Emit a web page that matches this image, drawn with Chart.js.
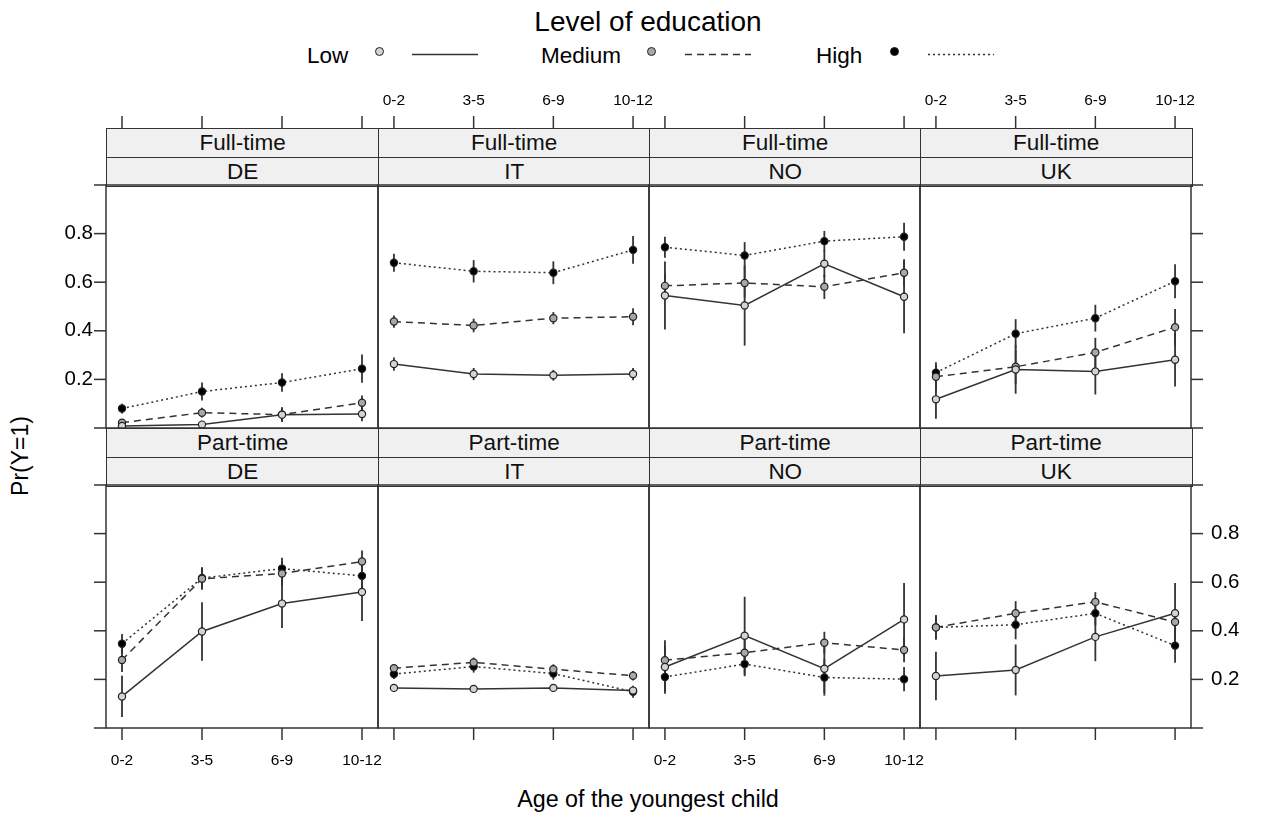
<!DOCTYPE html>
<html><head><meta charset="utf-8">
<script src="https://cdn.jsdelivr.net/npm/chart.js@4/dist/chart.umd.min.js"></script>
<style>
body{margin:0;background:#fff;}
#wrap{position:relative;width:1262px;height:818px;overflow:hidden;font-family:"Liberation Sans",Arial,sans-serif;color:#000;background:#fff;}
canvas{position:absolute;left:0;top:0;}
.strip{position:absolute;background:#f0f0f0;border:1.5px solid #333;box-sizing:border-box;text-align:center;font-size:22.5px;color:#111;}
.txt{position:absolute;white-space:nowrap;}
.dot{position:absolute;width:7px;height:7px;border-radius:50%;border:1.3px solid #222;box-sizing:content-box;}
svg{position:absolute;left:0;top:0;}
</style></head>
<body><div id="wrap"></div>
<script>
// ---------- data ----------
const ageGroups = ['0-2', '3-5', '6-9', '10-12'];
const countries = ['DE', 'IT', 'NO', 'UK'];
const employment = ['Full-time', 'Part-time'];
const eduLevels = ['Low', 'Medium', 'High'];
const yTickValues = [0, 0.2, 0.4, 0.6, 0.8, 1.0];
const yTickLabels = ['', '0.2', '0.4', '0.6', '0.8', ''];

// Full-time
const ft_DE_low = [0.008, 0.014, 0.055, 0.058];
const ft_DE_med = [0.022, 0.063, 0.055, 0.104];
const ft_DE_high = [0.080, 0.150, 0.187, 0.244];
const ft_IT_low = [0.263, 0.222, 0.217, 0.222];
const ft_IT_med = [0.438, 0.422, 0.452, 0.458];
const ft_IT_high = [0.680, 0.645, 0.639, 0.733];
const ft_NO_low = [0.545, 0.504, 0.676, 0.540];
const ft_NO_med = [0.585, 0.597, 0.581, 0.639];
const ft_NO_high = [0.744, 0.710, 0.769, 0.787];
const ft_UK_low = [0.118, 0.241, 0.233, 0.281];
const ft_UK_med = [0.211, 0.252, 0.311, 0.415];
const ft_UK_high = [0.228, 0.388, 0.452, 0.604];
// Part-time
const pt_DE_low = [0.130, 0.397, 0.512, 0.560];
const pt_DE_med = [0.280, 0.614, 0.636, 0.685];
const pt_DE_high = [0.347, 0.617, 0.656, 0.626];
const pt_IT_low = [0.165, 0.161, 0.165, 0.154];
const pt_IT_med = [0.246, 0.270, 0.242, 0.215];
const pt_IT_high = [0.222, 0.253, 0.224, 0.149];
const pt_NO_low = [0.251, 0.380, 0.244, 0.447];
const pt_NO_med = [0.279, 0.310, 0.351, 0.321];
const pt_NO_high = [0.210, 0.263, 0.208, 0.201];
const pt_UK_low = [0.214, 0.239, 0.375, 0.472];
const pt_UK_med = [0.414, 0.472, 0.519, 0.436];
const pt_UK_high = [0.414, 0.425, 0.472, 0.339];

// error-bar half widths
const ft_DE_low_err = [0.010, 0.010, 0.030, 0.030];
const ft_DE_med_err = [0.012, 0.020, 0.028, 0.030];
const ft_DE_high_err = [0.020, 0.037, 0.038, 0.058];
const ft_IT_low_err = [0.027, 0.025, 0.022, 0.025];
const ft_IT_med_err = [0.025, 0.028, 0.025, 0.035];
const ft_IT_high_err = [0.037, 0.046, 0.047, 0.057];
const ft_NO_low_err = [0.140, 0.165, 0.055, 0.150];
const ft_NO_med_err = [0.050, 0.060, 0.050, 0.055];
const ft_NO_high_err = [0.043, 0.055, 0.042, 0.058];
const ft_UK_low_err = [0.080, 0.100, 0.095, 0.110];
const ft_UK_med_err = [0.060, 0.070, 0.060, 0.075];
const ft_UK_high_err = [0.030, 0.060, 0.055, 0.070];
const pt_DE_low_err = [0.085, 0.120, 0.100, 0.120];
const pt_DE_med_err = [0.050, 0.045, 0.050, 0.045];
const pt_DE_high_err = [0.040, 0.045, 0.045, 0.050];
const pt_IT_low_err = [0.015, 0.015, 0.015, 0.015];
const pt_IT_med_err = [0.015, 0.020, 0.020, 0.020];
const pt_IT_high_err = [0.020, 0.025, 0.025, 0.025];
const pt_NO_low_err = [0.110, 0.160, 0.100, 0.150];
const pt_NO_med_err = [0.060, 0.060, 0.045, 0.050];
const pt_NO_high_err = [0.060, 0.050, 0.075, 0.050];
const pt_UK_low_err = [0.100, 0.105, 0.100, 0.125];
const pt_UK_med_err = [0.050, 0.050, 0.040, 0.050];
const pt_UK_high_err = [0.050, 0.060, 0.050, 0.070];

const panelData = {
  'Full-time': {
    DE: [[ft_DE_low, ft_DE_low_err], [ft_DE_med, ft_DE_med_err], [ft_DE_high, ft_DE_high_err]],
    IT: [[ft_IT_low, ft_IT_low_err], [ft_IT_med, ft_IT_med_err], [ft_IT_high, ft_IT_high_err]],
    NO: [[ft_NO_low, ft_NO_low_err], [ft_NO_med, ft_NO_med_err], [ft_NO_high, ft_NO_high_err]],
    UK: [[ft_UK_low, ft_UK_low_err], [ft_UK_med, ft_UK_med_err], [ft_UK_high, ft_UK_high_err]]
  },
  'Part-time': {
    DE: [[pt_DE_low, pt_DE_low_err], [pt_DE_med, pt_DE_med_err], [pt_DE_high, pt_DE_high_err]],
    IT: [[pt_IT_low, pt_IT_low_err], [pt_IT_med, pt_IT_med_err], [pt_IT_high, pt_IT_high_err]],
    NO: [[pt_NO_low, pt_NO_low_err], [pt_NO_med, pt_NO_med_err], [pt_NO_high, pt_NO_high_err]],
    UK: [[pt_UK_low, pt_UK_low_err], [pt_UK_med, pt_UK_med_err], [pt_UK_high, pt_UK_high_err]]
  }
};

// ---------- layout / styles ----------
const W = 1262, H = 818;
const colEdges = [106, 378, 649, 920, 1191];
const rowPlot = [[185, 428], [485, 728]];
const stripTops = [128, 428];
const FONT = '"Liberation Sans", Arial, sans-serif';
const INK = '#333';
const seriesStyle = [
  { dash: [], svgDash: 'none', fill: '#d4d4d4' },
  { dash: [7, 5], svgDash: '7 5', fill: '#a8a8a8' },
  { dash: [2, 3], svgDash: '2 3', fill: '#000000' }
];

const wrap = document.getElementById('wrap');
function addText(txt, x, y, size, align, extra) {
  const d = document.createElement('div');
  d.className = 'txt';
  d.textContent = txt;
  d.style.fontSize = size + 'px';
  d.style.left = x + 'px';
  d.style.top = y + 'px';
  d.style.lineHeight = '1';
  let tx = align === 'center' ? '-50%' : (align === 'right' ? '-100%' : '0');
  d.style.transform = 'translate(' + tx + ',-50%)' + (extra || '');
  wrap.appendChild(d);
  return d;
}

// title + legend
addText('Level of education', 648, 22, 28, 'center');
const legendX = [[307, 380, 412], [541, 652, 685], [816, 895, 928]];
const svgNS = 'http://www.w3.org/2000/svg';
const svg = document.createElementNS(svgNS, 'svg');
svg.setAttribute('width', W); svg.setAttribute('height', 100);
wrap.appendChild(svg);
eduLevels.forEach((lab, k) => {
  addText(lab, legendX[k][0], 56, 22.5, 'left');
  const dt = document.createElement('div');
  dt.className = 'dot';
  dt.style.background = seriesStyle[k].fill;
  dt.style.left = (legendX[k][1] - 4.8) + 'px';
  dt.style.top = (52 - 4.8) + 'px';
  wrap.appendChild(dt);
  const ln = document.createElementNS(svgNS, 'line');
  ln.setAttribute('x1', legendX[k][2]); ln.setAttribute('x2', legendX[k][2] + 66);
  ln.setAttribute('y1', 54.5); ln.setAttribute('y2', 54.5);
  ln.setAttribute('stroke', INK); ln.setAttribute('stroke-width', 1.5);
  if (seriesStyle[k].svgDash !== 'none') ln.setAttribute('stroke-dasharray', seriesStyle[k].svgDash);
  svg.appendChild(ln);
});

addText('Pr(Y=1)', 20, 456, 23, 'center', ' rotate(-90deg)');
addText('Age of the youngest child', 648, 800, 23.3, 'center');

// strips
employment.forEach((emp, r) => {
  countries.forEach((c, ci) => {
    [emp, c].forEach((lab, k) => {
      const s = document.createElement('div');
      s.className = 'strip';
      const top = stripTops[r] + k * 28.5;
      s.style.left = colEdges[ci] + 'px';
      s.style.width = (colEdges[ci + 1] - colEdges[ci] + 1.5) + 'px';
      s.style.top = top + 'px';
      s.style.height = '30px';
      s.style.lineHeight = '28px';
      s.textContent = lab;
      wrap.appendChild(s);
    });
  });
});

// plugins
const errorBars = {
  id: 'errorBars',
  beforeDatasetsDraw(chart) {
    const { ctx, scales: { x, y } } = chart;
    ctx.save();
    ctx.strokeStyle = INK;
    ctx.lineWidth = 1.8;
    chart.data.datasets.forEach(ds => {
      ds.data.forEach((p, i) => {
        const e = ds.errs[i];
        const px = x.getPixelForValue(p.x);
        ctx.beginPath();
        ctx.moveTo(px, y.getPixelForValue(p.y - e));
        ctx.lineTo(px, y.getPixelForValue(p.y + e));
        ctx.stroke();
      });
    });
    ctx.restore();
  }
};

const frame = {
  id: 'frame',
  afterDraw(chart, args, opts) {
    const { ctx, chartArea: a, scales: { x, y } } = chart;
    const { row, col } = opts;
    ctx.save();
    ctx.strokeStyle = INK;
    ctx.lineWidth = 1.5;
    ctx.strokeRect(a.left, a.top, a.right - a.left, a.bottom - a.top);
    ctx.fillStyle = '#000';
    ctx.font = '15.5px ' + FONT;
    ctx.textAlign = 'center';
    ctx.textBaseline = 'middle';
    const tl = 12;
    ageGroups.forEach((g, i) => {
      const px = x.getPixelForValue(i);
      ctx.beginPath();
      if (row === 0) {
        const t = stripTops[0];
        ctx.moveTo(px, t); ctx.lineTo(px, t - tl);
      } else {
        ctx.moveTo(px, a.bottom); ctx.lineTo(px, a.bottom + tl);
      }
      ctx.stroke();
      if (row === 0 && (col === 1 || col === 3)) ctx.fillText(g, px, 101);
      if (row === 1 && (col === 0 || col === 2)) ctx.fillText(g, px, 761);
    });
    ctx.font = '20.5px ' + FONT;
    yTickValues.forEach((v, i) => {
      const py = y.getPixelForValue(v);
      if (col === 0) {
        ctx.beginPath(); ctx.moveTo(a.left, py); ctx.lineTo(a.left - tl, py); ctx.stroke();
        if (row === 0 && yTickLabels[i]) { ctx.textAlign = 'right'; ctx.fillText(yTickLabels[i], a.left - 13, py); }
      }
      if (col === 3) {
        ctx.beginPath(); ctx.moveTo(a.right, py); ctx.lineTo(a.right + tl, py); ctx.stroke();
        if (row === 1 && yTickLabels[i]) { ctx.textAlign = 'left'; ctx.fillText(yTickLabels[i], a.right + 20, py); }
      }
    });
    ctx.restore();
  }
};

// charts
employment.forEach((emp, r) => {
  countries.forEach((c, ci) => {
    const cv = document.createElement('canvas');
    cv.width = W; cv.height = H;
    cv.style.width = W + 'px'; cv.style.height = H + 'px';
    wrap.appendChild(cv);
    const series = panelData[emp][c];
    const datasets = series.map((s, k) => ({
      label: eduLevels[k],
      data: s[0].map((v, i) => ({ x: i, y: v })),
      errs: s[1],
      borderColor: INK,
      borderWidth: 1.5,
      borderDash: seriesStyle[k].dash,
      pointRadius: 3.6,
      pointBackgroundColor: seriesStyle[k].fill,
      pointBorderColor: '#222',
      pointBorderWidth: 1.2,
      tension: 0,
      fill: false
    }));
    new Chart(cv, {
      type: 'line',
      data: { datasets },
      options: {
        responsive: false,
        animation: false,
        events: [],
        layout: { padding: { left: colEdges[ci], right: W - colEdges[ci + 1], top: rowPlot[r][0], bottom: H - rowPlot[r][1] } },
        plugins: { legend: { display: false }, tooltip: { enabled: false }, frame: { row: r, col: ci } },
        scales: {
          x: { type: 'linear', min: -0.2, max: 3.2, display: false },
          y: { type: 'linear', min: 0, max: 1, display: false }
        }
      },
      plugins: [errorBars, frame]
    });
  });
});
</script></body></html>
